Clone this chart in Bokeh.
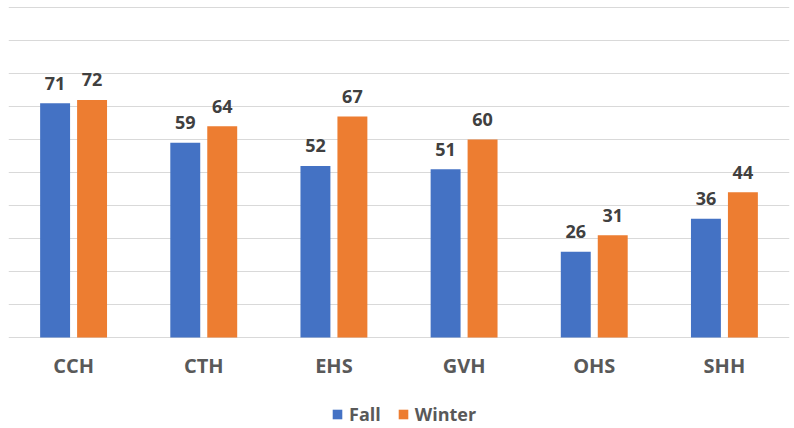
from bokeh.plotting import figure
from bokeh.models import ColumnDataSource, FactorRange, Range1d, FixedTicker, Legend, LegendItem
from bokeh.transform import dodge
from bokeh.core.properties import value
from bokeh.embed import file_html
from bokeh.resources import INLINE

categories = ["CCH", "CTH", "EHS", "GVH", "OHS", "SHH"]
fall = [71, 59, 52, 51, 26, 36]
winter = [72, 64, 67, 60, 31, 44]
series_names = ["Fall", "Winter"]
grid_ticks = list(range(0, 101, 10))

BLUE = "#4472C4"
ORANGE = "#ED7D31"
FONT = "Open Sans"

src = ColumnDataSource(dict(
    cat=categories,
    fall=fall,
    winter=winter,
    fall_lbl=[str(v) for v in fall],
    winter_lbl=[str(v) for v in winter],
))

# frame spans full height below the baseline so the legend (drawn in the frame) is visible
p = figure(
    x_range=FactorRange(*categories),
    y_range=Range1d(-27.576, 100.6),
    width=794, height=428,
    output_backend="svg", toolbar_location=None,
    min_border_left=8, min_border_right=5, min_border_top=5, min_border_bottom=0,
)
p.outline_line_color = None
p.background_fill_color = "white"
p.border_fill_color = "white"

off = 0.142
bw = 0.23
r_fall = p.vbar(x=dodge("cat", -off, range=p.x_range), top="fall", width=bw, source=src,
                fill_color=BLUE, line_color=None)
r_win = p.vbar(x=dodge("cat", off, range=p.x_range), top="winter", width=bw, source=src,
               fill_color=ORANGE, line_color=None)

for col, lbl, dx in (("fall", "fall_lbl", -off), ("winter", "winter_lbl", off)):
    p.text(x=dodge("cat", dx, range=p.x_range), y=col, text=lbl, source=src,
           text_align="center", text_baseline="alphabetic", y_offset=-20,
           text_font=value(FONT), text_font_style="bold", text_font_size="18px",
           text_color="#404040")

p.yaxis.visible = False
p.yaxis.ticker = FixedTicker(ticks=grid_ticks)
p.ygrid.ticker = FixedTicker(ticks=grid_ticks)
p.ygrid.grid_line_color = "#D9D9D9"
p.ygrid.grid_line_width = 1
p.xgrid.grid_line_color = None

p.xaxis.fixed_location = 0
p.xaxis.axis_line_color = None
p.xaxis.major_tick_line_color = None
p.xaxis.minor_tick_line_color = None
p.xaxis.major_tick_out = 0
p.xaxis.major_tick_in = 0
p.xaxis.major_label_standoff = 15
p.xaxis.major_label_text_font = FONT
p.xaxis.major_label_text_font_style = "bold"
p.xaxis.major_label_text_font_size = "20px"
p.xaxis.major_label_text_color = "#595959"

legend = Legend(
    items=[LegendItem(label=series_names[0], renderers=[r_fall]),
           LegendItem(label=series_names[1], renderers=[r_win])],
    orientation="horizontal",
    location=(323, 2),
    glyph_width=12, glyph_height=12,
    label_standoff=6, spacing=16,
    padding=0, margin=0,
    border_line_color=None, background_fill_alpha=0,
    label_text_font=FONT, label_text_font_style="bold",
    label_text_font_size="18px", label_text_color="#595959",
)
p.add_layout(legend, "center")

open("out.html", "w").write(file_html(p, INLINE))
